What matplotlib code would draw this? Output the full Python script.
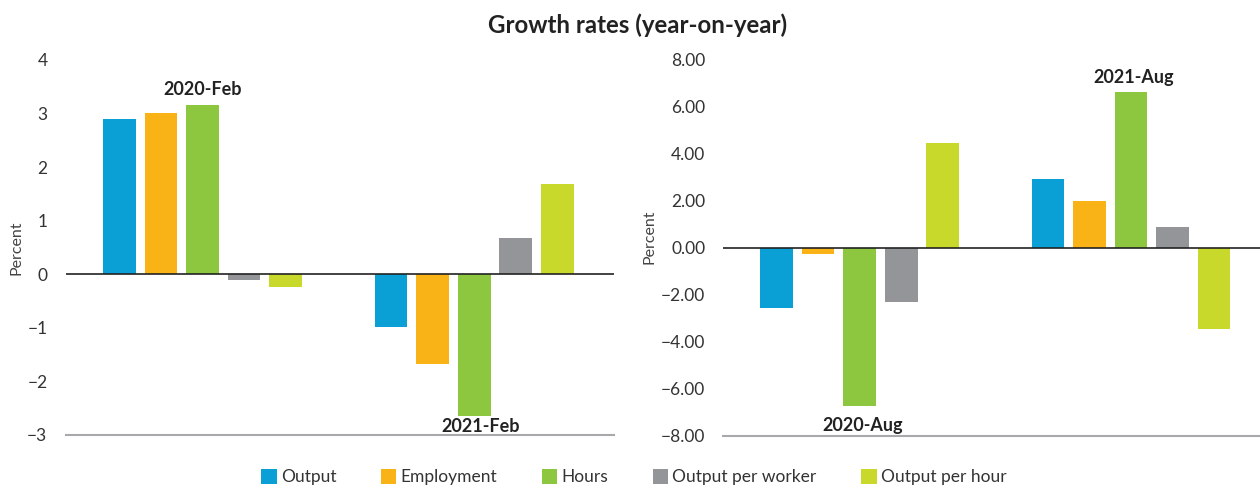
import numpy as np
import matplotlib
matplotlib.use('Agg')
import matplotlib.pyplot as plt
from matplotlib.patches import Patch
from matplotlib.ticker import FuncFormatter

plt.rcParams['font.family'] = ['Lato', 'DejaVu Sans']

# Data
series = ['Output', 'Employment', 'Hours', 'Output per worker', 'Output per hour']
colors = ['#0aa0d6', '#f9b317', '#8dc63f', '#939598', '#c8d92b']

left_periods = ['2020-Feb', '2021-Feb']
left_values = [
    [2.90, 3.00, 3.15, -0.10, -0.23],    # 2020-Feb
    [-0.99, -1.68, -2.65, 0.67, 1.68],   # 2021-Feb
]

right_periods = ['2020-Aug', '2021-Aug']
right_values = [
    [-2.55, -0.26, -6.73, -2.33, 4.43],  # 2020-Aug
    [2.91, 1.97, 6.60, 0.89, -3.44],     # 2021-Aug
]

fig = plt.figure(figsize=(12.6, 4.87), dpi=100)
ax1 = fig.add_axes([0.052, 0.107, 0.435, 0.770])
ax2 = fig.add_axes([0.574, 0.105, 0.426, 0.773])

step = 0.153
width = 0.12
offsets = (np.arange(len(series)) - 2) * step


def draw_panel(ax, values, ylim, ticks, fmt, xlim):
    for g, vals in enumerate(values):
        for i, v in enumerate(vals):
            ax.bar(g + offsets[i], v, width=width, color=colors[i], zorder=2)
    ax.axhline(0, color='#222222', lw=1.2, zorder=3)
    ax.set_ylim(*ylim)
    ax.set_xlim(*xlim)
    ax.set_yticks(ticks)
    ax.yaxis.set_major_formatter(FuncFormatter(lambda v, p: fmt.format(v).replace('-', '\u2212')))
    ax.set_xticks([])
    for s in ['top', 'right', 'left']:
        ax.spines[s].set_visible(False)
    ax.spines['bottom'].set_color('#a7a9ac')
    ax.spines['bottom'].set_linewidth(1.5)
    ax.tick_params(axis='y', length=0, pad=13, labelsize=12.5, labelcolor='#333333')
    ax.set_ylabel('Percent', fontsize=11.5, color='#444444')


draw_panel(ax1, left_values, (-3, 4), range(-3, 5), '{:.0f}', (-0.504, 1.513))
draw_panel(ax2, right_values, (-8, 8), range(-8, 9, 2), '{:.2f}', (-0.503, 1.475))
ax1.yaxis.set_label_coords(-0.077, 0.50)
ax2.yaxis.set_label_coords(-0.125, 0.53)

# period labels
lab = dict(ha='center', va='center', fontsize=13, fontweight='bold', color='#222222', zorder=4)
ax1.text(0.0, 3.44, left_periods[0], **lab)
ax1.text(1.025, -2.85, left_periods[1], **lab)
ax2.text(0.01, -7.55, right_periods[0], **lab)
ax2.text(1.01, 7.25, right_periods[1], **lab)

fig.text(0.506, 0.949, 'Growth rates (year-on-year)', ha='center', va='center',
         fontsize=17.3, fontweight='bold', color='#222222')

handles = [Patch(facecolor=c, edgecolor='none') for c in colors]
fig.legend(handles, series, loc='center', bbox_to_anchor=(0.503, 0.02), ncol=5,
           frameon=False, fontsize=12.5, handlelength=0.9, handleheight=0.9,
           handletextpad=0.25, columnspacing=2.55, labelcolor='#333333')

fig.savefig('out.png', dpi=100)
